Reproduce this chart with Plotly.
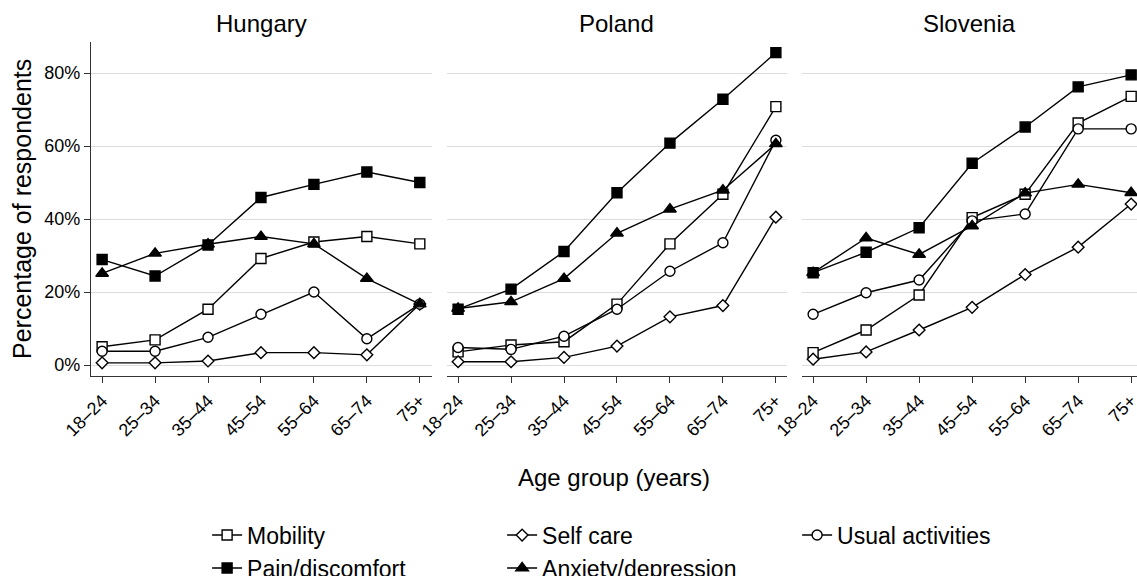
import plotly.graph_objects as go

ages = ["18–24", "25–34", "35–44", "45–54", "55–64", "65–74", "75+"]
countries = ["Hungary", "Poland", "Slovenia"]
dimensions = ["Mobility", "Self care", "Usual activities", "Pain/discomfort", "Anxiety/depression"]

# Hungary
mobility_hu = [5.0, 6.9, 15.3, 29.2, 33.7, 35.2, 33.2]
selfcare_hu = [0.6, 0.6, 1.1, 3.4, 3.4, 2.8, 16.7]
usual_hu = [3.8, 3.8, 7.6, 13.9, 20.0, 7.2, 16.7]
pain_hu = [28.9, 24.4, 32.9, 45.9, 49.5, 52.9, 50.0]
anxiety_hu = [25.1, 30.6, 33.1, 35.2, 33.2, 23.7, 16.7]

# Poland
mobility_pl = [3.6, 5.5, 6.4, 16.7, 33.2, 46.8, 70.8]
selfcare_pl = [0.9, 0.9, 2.1, 5.2, 13.2, 16.3, 40.5]
usual_pl = [4.8, 4.3, 7.9, 15.3, 25.7, 33.5, 61.6]
pain_pl = [15.3, 20.8, 31.1, 47.2, 60.8, 72.8, 85.6]
anxiety_pl = [15.5, 17.3, 23.7, 36.1, 42.7, 47.9, 60.6]

# Slovenia
mobility_si = [3.4, 9.6, 19.2, 40.4, 46.8, 66.3, 73.6]
selfcare_si = [1.6, 3.6, 9.6, 15.8, 24.8, 32.3, 44.1]
usual_si = [13.9, 19.8, 23.3, 39.5, 41.4, 64.7, 64.7]
pain_si = [25.3, 30.9, 37.6, 55.3, 65.2, 76.2, 79.5]
anxiety_si = [25.3, 34.8, 30.3, 38.1, 47.1, 49.5, 47.2]

y_ticks = [0, 20, 40, 60, 80]
y_ticktext = ["0%", "20%", "40%", "60%", "80%"]

data = {
    "Hungary": [mobility_hu, selfcare_hu, usual_hu, pain_hu, anxiety_hu],
    "Poland": [mobility_pl, selfcare_pl, usual_pl, pain_pl, anxiety_pl],
    "Slovenia": [mobility_si, selfcare_si, usual_si, pain_si, anxiety_si],
}

styles = [
    dict(symbol="square", size=10, color="white"),
    dict(symbol="diamond", size=9, color="white"),
    dict(symbol="circle", size=10, color="white"),
    dict(symbol="square", size=10, color="black"),
    dict(symbol="triangle-up", size=11, color="black"),
]

FONT = "Liberation Sans, Arial, Helvetica, sans-serif"

fig = go.Figure()
domains = [[0.0, 0.326], [0.3403, 0.6654], [0.6797, 1.0]]
ranges = [[-0.21, 6.23], [-0.21, 6.21], [-0.21, 6.11]]

for ci, country in enumerate(countries):
    xa = "x" if ci == 0 else f"x{ci+1}"
    ya = "y" if ci == 0 else f"y{ci+1}"
    for di, dim in enumerate(dimensions):
        st = styles[di]
        fig.add_trace(go.Scatter(
            x=ages, y=data[country][di], mode="lines+markers",
            name=dim, legendgroup=dim, showlegend=(ci == 0),
            xaxis=xa, yaxis=ya,
            line=dict(color="black", width=1.4),
            marker=dict(symbol=st["symbol"], size=st["size"], color=st["color"],
                        line=dict(color="black", width=1.4)),
        ))

layout = dict(
    width=1137, height=576,
    margin=dict(l=91, r=0, t=42, b=200, autoexpand=False),
    paper_bgcolor="white", plot_bgcolor="white",
    font=dict(family=FONT, color="black", size=18),
    showlegend=True,
    legend=dict(orientation="h", x=0.111, xanchor="left", y=-0.412, yanchor="top",
                entrywidth=250, entrywidthmode="pixels",
                font=dict(size=23, family=FONT), tracegroupgap=0,
                bgcolor="rgba(0,0,0,0)"),
)

for ci in range(3):
    sx = "" if ci == 0 else str(ci + 1)
    layout[f"xaxis{sx}"] = dict(
        domain=domains[ci], type="category", range=ranges[ci],
        categoryorder="array", categoryarray=ages, automargin=False,
        showline=True, linecolor="#333333", linewidth=1.2,
        ticks="outside", ticklen=6, tickcolor="#333333", tickwidth=1.2,
        tickangle=-45, tickfont=dict(size=18), showgrid=False, zeroline=False,
        anchor="y" if ci == 0 else f"y{ci+1}",
    )
    layout[f"yaxis{sx}"] = dict(
        range=[-3.0, 88.5], tickvals=y_ticks, ticktext=y_ticktext, automargin=False,
        showgrid=True, gridcolor="#dcdcdc", gridwidth=1.2, zeroline=False,
        showline=(ci == 0), linecolor="#333333", linewidth=1.2,
        ticks="outside" if ci == 0 else "", ticklen=6, tickcolor="#333333", tickwidth=1.2,
        showticklabels=(ci == 0), tickfont=dict(size=18),
        anchor="x" if ci == 0 else f"x{ci+1}",
    )

annotations = []
for ci, country in enumerate(countries):
    annotations.append(dict(
        text=country, x=(domains[ci][0] + domains[ci][1]) / 2, y=1.054,
        xref="paper", yref="paper", xanchor="center", yanchor="middle",
        showarrow=False, font=dict(size=24, family=FONT),
    ))
annotations.append(dict(
    text="Age group (years)", x=0.5, y=-0.305, xref="paper", yref="paper",
    xanchor="center", yanchor="middle", showarrow=False, font=dict(size=24, family=FONT),
))
annotations.append(dict(
    text="Percentage of respondents", x=-0.066, y=0.5, xref="paper", yref="paper",
    xanchor="center", yanchor="middle", textangle=-90, showarrow=False,
    font=dict(size=25, family=FONT),
))
layout["annotations"] = annotations

fig.update_layout(**layout)
fig.write_html("out.html", config={"displayModeBar": False},
               post_script="document.body.style.margin='0';document.body.style.overflow='hidden';")
